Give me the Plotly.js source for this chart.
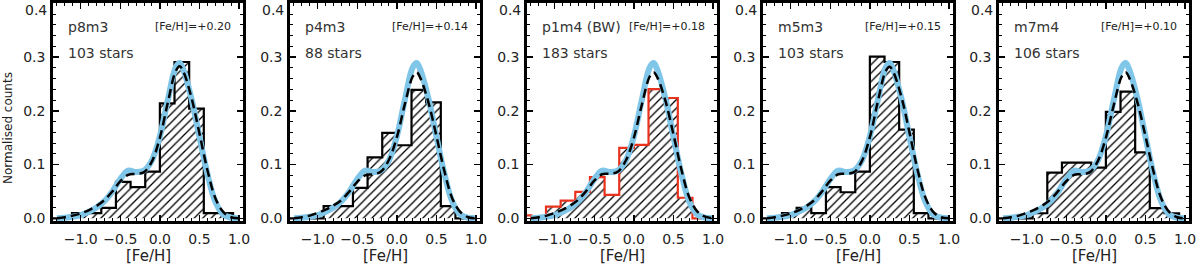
<!DOCTYPE html>
<html>
<head>
<meta charset="utf-8">
<script src="https://cdn.plot.ly/plotly-3.0.1.min.js"></script>
<style>html,body{margin:0;padding:0;background:#fff;}#chart{width:1200px;height:267px;}</style>
</head>
<body>
<div id="chart"></div>
<script>
// ---- data ----
const fieldNames = ["p8m3", "p4m3", "p1m4 (BW)", "m5m3", "m7m4"];
const starLabels = ["103 stars", "88 stars", "183 stars", "103 stars", "106 stars"];
const fehLabels = ["[Fe/H]=+0.20", "[Fe/H]=+0.14", "[Fe/H]=+0.18", "[Fe/H]=+0.15", "[Fe/H]=+0.10"];

// histogram bin edges ([Fe/H])
const binEdges = [-1.48, -1.295, -1.11, -0.925, -0.74, -0.555, -0.37, -0.185, 0, 0.185, 0.37, 0.555, 0.74, 0.925];

// normalised counts per bin
const histP8m3 = [0, 0, 0.0097, 0.0097, 0.0194, 0.068, 0.058, 0.087, 0.214, 0.291, 0.204, 0.0097, 0.0097];
const histP4m3 = [0, 0, 0, 0.0227, 0.0227, 0.0568, 0.1136, 0.159, 0.136, 0.239, 0.216, 0.0227, 0];
const histP1m4 = [0.0055, 0, 0.0219, 0.0328, 0.0492, 0.0765, 0.0437, 0.131, 0.1366, 0.2404, 0.224, 0.0383, 0];
const histM5m3 = [0, 0, 0.0097, 0.0194, 0.0097, 0.058, 0.0485, 0.087, 0.301, 0.291, 0.165, 0.0097, 0];
const histM7m4 = [0, 0, 0, 0.0094, 0.0849, 0.1038, 0.1038, 0.0943, 0.198, 0.236, 0.1226, 0.0189, 0.0094];

// smooth curves sampled at these [Fe/H] values
const curveX = [-1.3, -1.2, -1.1, -1.0, -0.9, -0.8, -0.7, -0.6, -0.5, -0.4, -0.3, -0.2, -0.1, 0.0, 0.1, 0.2, 0.25, 0.3, 0.4, 0.5, 0.6, 0.7, 0.8, 0.9, 1.0];
const blueModel = [0, 0.001, 0.003, 0.006, 0.012, 0.02, 0.032, 0.05, 0.073, 0.089, 0.086, 0.089, 0.108, 0.153, 0.22, 0.281, 0.289, 0.275, 0.222, 0.152, 0.083, 0.031, 0.007, 0.001, 0];
const dashP8m3 = [0, 0.002, 0.005, 0.009, 0.015, 0.023, 0.034, 0.05, 0.069, 0.081, 0.083, 0.086, 0.106, 0.15, 0.215, 0.274, 0.283, 0.272, 0.224, 0.158, 0.09, 0.038, 0.012, 0.002, 0];
const dashP4m3 = [0, 0.002, 0.005, 0.01, 0.016, 0.024, 0.034, 0.05, 0.068, 0.08, 0.082, 0.087, 0.109, 0.151, 0.212, 0.264, 0.272, 0.26, 0.215, 0.153, 0.088, 0.037, 0.012, 0.002, 0];
const dashP1m4 = [0, 0.002, 0.005, 0.01, 0.016, 0.024, 0.035, 0.051, 0.07, 0.082, 0.083, 0.087, 0.108, 0.15, 0.211, 0.264, 0.272, 0.261, 0.218, 0.156, 0.091, 0.039, 0.013, 0.003, 0];
const dashM5m3 = [0, 0.002, 0.005, 0.009, 0.015, 0.023, 0.034, 0.051, 0.07, 0.082, 0.083, 0.086, 0.107, 0.151, 0.217, 0.274, 0.282, 0.271, 0.225, 0.16, 0.092, 0.039, 0.012, 0.002, 0];
const dashM7m4 = [0, 0.002, 0.005, 0.01, 0.016, 0.024, 0.035, 0.051, 0.069, 0.081, 0.082, 0.086, 0.107, 0.15, 0.211, 0.264, 0.272, 0.26, 0.215, 0.153, 0.088, 0.037, 0.012, 0.002, 0];

const xTickVals = [-1.0, -0.5, 0.0, 0.5, 1.0];
const yTickVals = [0.0, 0.1, 0.2, 0.3, 0.4];
// the top label (0.4) is drawn as an annotation nudged just below its tick so it is not cut off
const yTickText = ["0.0", "0.1", "0.2", "0.3", ""];
const yTopLabel = "0.4";

const histList = [histP8m3, histP4m3, histP1m4, histM5m3, histM7m4];
const dashList = [dashP8m3, dashP4m3, dashP1m4, dashM5m3, dashM7m4];
const outlineColors = ["#000000", "#000000", "#e8321e", "#000000", "#000000"];

// ---- layout geometry (pixels) ----
const W = 1200, H = 267;
const panelLeft = [53, 290, 527, 763, 999];
const panelWidth = 190;
const plotTop = 3, plotBottom = 221;

function stepXY(edges, vals) {
  const xs = [edges[0]], ys = [0];
  for (let i = 0; i < vals.length; i++) { xs.push(edges[i]); ys.push(vals[i]); }
  xs.push(edges[edges.length - 1]); ys.push(vals[vals.length - 1]);
  xs.push(edges[edges.length - 1]); ys.push(0);
  return {xs, ys};
}

const traces = [];
const layout = {
  width: W, height: H,
  margin: {l: 0, r: 0, t: 0, b: 0},
  paper_bgcolor: "#ffffff", plot_bgcolor: "#ffffff",
  showlegend: false,
  font: {family: "DejaVu Sans, sans-serif", color: "#222", size: 14},
  annotations: []
};

const FONT = "DejaVu Sans, sans-serif";

for (let p = 0; p < 5; p++) {
  const sfx = p === 0 ? "" : String(p + 1);
  const xa = "x" + sfx, ya = "y" + sfx;
  const st = stepXY(binEdges, histList[p]);
  traces.push({
    type: "scatter", mode: "lines", x: st.xs, y: st.ys, xaxis: xa, yaxis: ya,
    line: {shape: "hv", color: outlineColors[p], width: 2.2},
    fill: "tozeroy", fillcolor: "rgba(255,255,255,0)",
    fillpattern: {shape: "/", size: 6, solidity: 0.22, fgcolor: "#000000", bgcolor: "rgba(255,255,255,0)"},
    hoverinfo: "skip"
  });
  traces.push({
    type: "scatter", mode: "lines", x: curveX, y: blueModel, xaxis: xa, yaxis: ya,
    line: {shape: "spline", smoothing: 1, color: "#80c6e8", width: 6},
    hoverinfo: "skip"
  });
  traces.push({
    type: "scatter", mode: "lines", x: curveX, y: dashList[p], xaxis: xa, yaxis: ya,
    line: {shape: "spline", smoothing: 1, color: "#000000", width: 2.5, dash: "9px,5px"},
    hoverinfo: "skip"
  });

  const l = panelLeft[p];
  const axCommon = {
    showline: true, linecolor: "#000", linewidth: 2.8, mirror: "ticks",
    ticks: "inside", ticklen: 6, tickwidth: 1.5, tickcolor: "#000",
    showgrid: false, zeroline: false, tickformat: ".1f",
    tickfont: {family: FONT, size: 14, color: "#222"}
  };
  layout["xaxis" + sfx] = Object.assign({}, axCommon, {
    domain: [l / W, (l + panelWidth) / W], anchor: ya,
    range: [-1.35, 1.05], tickmode: "array", tickvals: xTickVals,
    minor: {ticks: "inside", ticklen: 3, tickwidth: 1, tickcolor: "#000", dtick: 0.1},
    ticklabelstandoff: 3
  });
  layout["yaxis" + sfx] = Object.assign({}, axCommon, {
    domain: [1 - plotBottom / H, 1 - plotTop / H], anchor: xa,
    range: [-0.005, 0.4008], tickmode: "array", tickvals: yTickVals, ticktext: yTickText,
    minor: {ticks: "inside", ticklen: 3, tickwidth: 1, tickcolor: "#000", dtick: 0.02},
    ticklabelstandoff: 2
  });

  layout.annotations.push({
    xref: "paper", yref: "paper", x: (l - 4) / W, y: (H - 10) / H, xanchor: "right", yanchor: "middle",
    text: yTopLabel, showarrow: false, font: {family: FONT, size: 14, color: "#222"}
  });

  const xd = xa + " domain", yd = ya + " domain";
  layout.annotations.push({
    xref: xd, yref: yd, x: 0.07, y: 0.89, xanchor: "left", yanchor: "middle",
    text: fieldNames[p], showarrow: false, font: {family: FONT, size: 14, color: "#333"}
  });
  layout.annotations.push({
    xref: xd, yref: yd, x: 0.07, y: 0.77, xanchor: "left", yanchor: "middle",
    text: starLabels[p], showarrow: false, font: {family: FONT, size: 14, color: "#333"}
  });
  layout.annotations.push({
    xref: xd, yref: yd, x: 0.945, y: 0.89, xanchor: "right", yanchor: "middle",
    text: fehLabels[p], showarrow: false, font: {family: FONT, size: 11, color: "#222"}
  });
  layout.annotations.push({
    xref: "paper", yref: "paper", x: (l + panelWidth / 2) / W, y: (H - 256) / H,
    xanchor: "center", yanchor: "middle", text: "[Fe/H]", showarrow: false,
    font: {family: FONT, size: 15, color: "#222"}
  });
}
layout.annotations.push({
  xref: "paper", yref: "paper", x: 8 / W, y: (H - 128) / H, xanchor: "center", yanchor: "middle",
  text: "Normalised counts", textangle: -90, showarrow: false,
  font: {family: FONT, size: 12, color: "#222"}
});

Plotly.newPlot("chart", traces, layout, {staticPlot: true, displayModeBar: false});
</script>
</body>
</html>
